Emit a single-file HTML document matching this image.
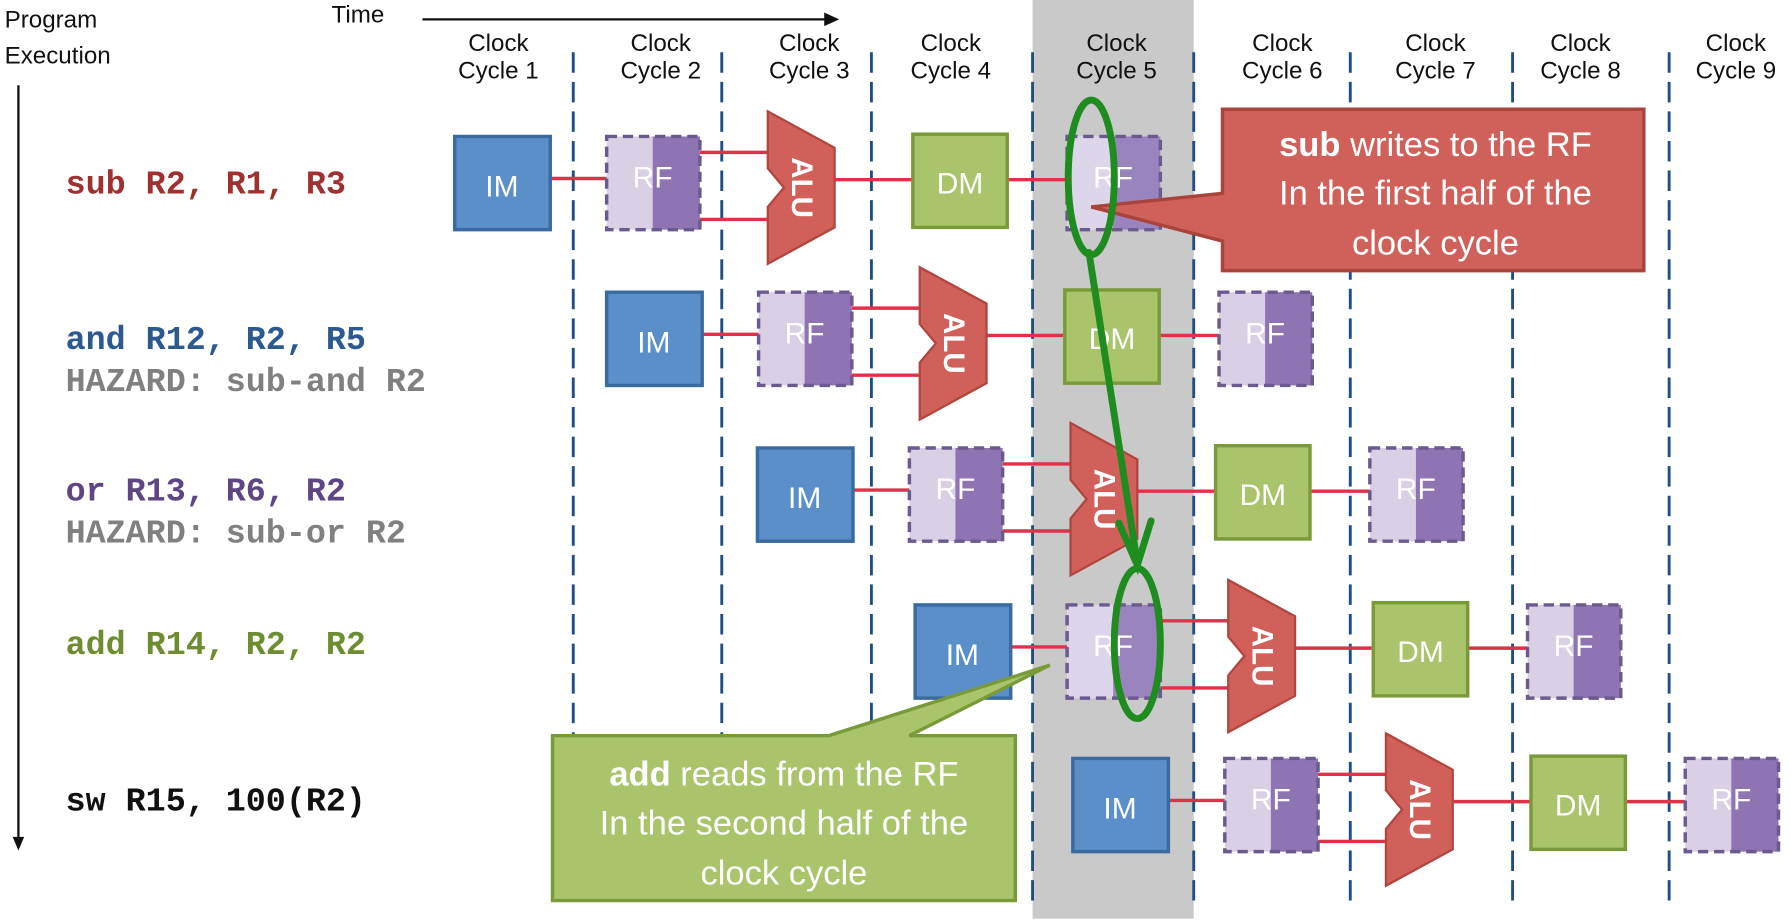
<!DOCTYPE html>
<html><head><meta charset="utf-8"><style>
html,body{margin:0;padding:0;background:#fff;}
svg{display:block;}
.cl{font-family:"Liberation Sans",sans-serif;font-size:21px;fill:#111;text-anchor:middle;}
.ins{font-family:"Liberation Mono",monospace;font-size:29px;font-weight:bold;}
.lbl{font-family:"Liberation Sans",sans-serif;font-size:26px;fill:#fff;text-anchor:middle;}
.co{font-family:"Liberation Sans",sans-serif;font-size:30px;fill:#fff;text-anchor:middle;}
</style></head><body>
<svg width="1790" height="921" viewBox="0 0 1555 810" preserveAspectRatio="none" xmlns="http://www.w3.org/2000/svg">
<rect x="897" y="0" width="140" height="808" fill="#c9c9c9"/>
<text x="4" y="24" font-family="Liberation Sans, sans-serif" font-size="21" fill="#111">Program</text>
<text x="4" y="56" font-family="Liberation Sans, sans-serif" font-size="21" fill="#111">Execution</text>
<line x1="16" y1="75" x2="16" y2="738" stroke="#111" stroke-width="2"/>
<polygon points="11,736 21,736 16,748" fill="#111"/>
<text x="288" y="20" font-family="Liberation Sans, sans-serif" font-size="21" fill="#111">Time</text>
<line x1="367" y1="17" x2="718" y2="17" stroke="#111" stroke-width="2"/>
<polygon points="716,11 729,17 716,23" fill="#111"/>
<g class="cl">
<text x="433" y="45">Clock</text><text x="433" y="69">Cycle 1</text>
<text x="574" y="45">Clock</text><text x="574" y="69">Cycle 2</text>
<text x="703" y="45">Clock</text><text x="703" y="69">Cycle 3</text>
<text x="826" y="45">Clock</text><text x="826" y="69">Cycle 4</text>
<text x="970" y="45">Clock</text><text x="970" y="69">Cycle 5</text>
<text x="1114" y="45">Clock</text><text x="1114" y="69">Cycle 6</text>
<text x="1247" y="45">Clock</text><text x="1247" y="69">Cycle 7</text>
<text x="1373" y="45">Clock</text><text x="1373" y="69">Cycle 8</text>
<text x="1508" y="45">Clock</text><text x="1508" y="69">Cycle 9</text>
</g>
<g stroke="#1f4e85" stroke-width="2.5" stroke-dasharray="18,8">
<line x1="498" y1="46" x2="498" y2="795"/><line x1="627" y1="46" x2="627" y2="795"/>
<line x1="757" y1="46" x2="757" y2="795"/><line x1="897" y1="46" x2="897" y2="795"/>
<line x1="1037" y1="46" x2="1037" y2="795"/><line x1="1173" y1="46" x2="1173" y2="795"/>
<line x1="1314" y1="46" x2="1314" y2="795"/><line x1="1450" y1="46" x2="1450" y2="795"/>
</g>
<text class="ins" x="57" y="170" fill="#a03030">sub R2, R1, R3</text>
<text class="ins" x="57" y="307" fill="#2c5a90">and R12, R2, R5</text>
<text class="ins" x="57" y="344" fill="#808080">HAZARD: sub-and R2</text>
<text class="ins" x="57" y="440" fill="#5e4685">or  R13, R6, R2</text>
<text class="ins" x="57" y="477" fill="#808080">HAZARD: sub-or  R2</text>
<text class="ins" x="57" y="575" fill="#6e8c30">add R14, R2, R2</text>
<text class="ins" x="57" y="713" fill="#111">sw  R15, 100(R2)</text>

<!-- Row 1 -->
<g transform="translate(395,120)">
<g stroke="#e0304a" stroke-width="3"><line x1="83" y1="37" x2="132" y2="37"/><line x1="213" y1="14" x2="272" y2="14"/><line x1="213" y1="73" x2="272" y2="73"/><line x1="330" y1="38" x2="398" y2="38"/><line x1="480" y1="38" x2="532" y2="38"/></g>
<rect x="0" y="0" width="83" height="82" fill="#5b8fc9" stroke="#3a6aa0" stroke-width="3"/><text class="lbl" x="41" y="53">IM</text>
<rect x="132" y="0" width="40" height="82" fill="#d9d0e6"/><rect x="172" y="0" width="41" height="82" fill="#8e74b3"/><rect x="132" y="0" width="81" height="82" fill="none" stroke="#6b5a8e" stroke-width="3" stroke-dasharray="9,5"/><text class="lbl" x="172" y="45">RF</text>
<polygon points="272,-22 330,10 330,80 272,112 272,62 286,45 272,28" fill="#d2605a" stroke="#b0463e" stroke-width="2"/><text class="lbl" x="0" y="0" font-weight="bold" font-size="22" transform="translate(293,45) rotate(90)">ALU</text>
<rect x="398" y="-2" width="82" height="82" fill="#a9c46a" stroke="#7a9a3a" stroke-width="3"/><text class="lbl" x="439" y="50">DM</text>
<rect x="532" y="0" width="40" height="82" fill="#ddd6ea"/><rect x="572" y="0" width="41" height="82" fill="#9a84bd"/><rect x="532" y="0" width="81" height="82" fill="none" stroke="#6b5a8e" stroke-width="3" stroke-dasharray="9,5"/><text class="lbl" x="572" y="45">RF</text>
</g>
<!-- Row 2 -->
<g transform="translate(527,257)">
<g stroke="#e0304a" stroke-width="3"><line x1="83" y1="37" x2="132" y2="37"/><line x1="213" y1="14" x2="272" y2="14"/><line x1="213" y1="73" x2="272" y2="73"/><line x1="330" y1="38" x2="398" y2="38"/><line x1="480" y1="38" x2="532" y2="38"/></g>
<rect x="0" y="0" width="83" height="82" fill="#5b8fc9" stroke="#3a6aa0" stroke-width="3"/><text class="lbl" x="41" y="53">IM</text>
<rect x="132" y="0" width="40" height="82" fill="#d9d0e6"/><rect x="172" y="0" width="41" height="82" fill="#8e74b3"/><rect x="132" y="0" width="81" height="82" fill="none" stroke="#6b5a8e" stroke-width="3" stroke-dasharray="9,5"/><text class="lbl" x="172" y="45">RF</text>
<polygon points="272,-22 330,10 330,80 272,112 272,62 286,45 272,28" fill="#d2605a" stroke="#b0463e" stroke-width="2"/><text class="lbl" x="0" y="0" font-weight="bold" font-size="22" transform="translate(293,45) rotate(90)">ALU</text>
<rect x="398" y="-2" width="82" height="82" fill="#a9c46a" stroke="#7a9a3a" stroke-width="3"/><text class="lbl" x="439" y="50">DM</text>
<rect x="532" y="0" width="40" height="82" fill="#d9d0e6"/><rect x="572" y="0" width="41" height="82" fill="#8e74b3"/><rect x="532" y="0" width="81" height="82" fill="none" stroke="#6b5a8e" stroke-width="3" stroke-dasharray="9,5"/><text class="lbl" x="572" y="45">RF</text>
</g>
<!-- Row 3 -->
<g transform="translate(658,394)">
<g stroke="#e0304a" stroke-width="3"><line x1="83" y1="37" x2="132" y2="37"/><line x1="213" y1="14" x2="272" y2="14"/><line x1="213" y1="73" x2="272" y2="73"/><line x1="330" y1="38" x2="398" y2="38"/><line x1="480" y1="38" x2="532" y2="38"/></g>
<rect x="0" y="0" width="83" height="82" fill="#5b8fc9" stroke="#3a6aa0" stroke-width="3"/><text class="lbl" x="41" y="53">IM</text>
<rect x="132" y="0" width="40" height="82" fill="#d9d0e6"/><rect x="172" y="0" width="41" height="82" fill="#8e74b3"/><rect x="132" y="0" width="81" height="82" fill="none" stroke="#6b5a8e" stroke-width="3" stroke-dasharray="9,5"/><text class="lbl" x="172" y="45">RF</text>
<polygon points="272,-22 330,10 330,80 272,112 272,62 286,45 272,28" fill="#d2605a" stroke="#b0463e" stroke-width="2"/><text class="lbl" x="0" y="0" font-weight="bold" font-size="22" transform="translate(293,45) rotate(90)">ALU</text>
<rect x="398" y="-2" width="82" height="82" fill="#a9c46a" stroke="#7a9a3a" stroke-width="3"/><text class="lbl" x="439" y="50">DM</text>
<rect x="532" y="0" width="40" height="82" fill="#d9d0e6"/><rect x="572" y="0" width="41" height="82" fill="#8e74b3"/><rect x="532" y="0" width="81" height="82" fill="none" stroke="#6b5a8e" stroke-width="3" stroke-dasharray="9,5"/><text class="lbl" x="572" y="45">RF</text>
</g>
<!-- Row 4 -->
<g transform="translate(795,532)">
<g stroke="#e0304a" stroke-width="3"><line x1="83" y1="37" x2="132" y2="37"/><line x1="213" y1="14" x2="272" y2="14"/><line x1="213" y1="73" x2="272" y2="73"/><line x1="330" y1="38" x2="398" y2="38"/><line x1="480" y1="38" x2="532" y2="38"/></g>
<rect x="0" y="0" width="83" height="82" fill="#5b8fc9" stroke="#3a6aa0" stroke-width="3"/><text class="lbl" x="41" y="53">IM</text>
<rect x="132" y="0" width="40" height="82" fill="#ddd6ea"/><rect x="172" y="0" width="41" height="82" fill="#9a84bd"/><rect x="132" y="0" width="81" height="82" fill="none" stroke="#6b5a8e" stroke-width="3" stroke-dasharray="9,5"/><text class="lbl" x="172" y="45">RF</text>
<polygon points="272,-22 330,10 330,80 272,112 272,62 286,45 272,28" fill="#d2605a" stroke="#b0463e" stroke-width="2"/><text class="lbl" x="0" y="0" font-weight="bold" font-size="22" transform="translate(293,45) rotate(90)">ALU</text>
<rect x="398" y="-2" width="82" height="82" fill="#a9c46a" stroke="#7a9a3a" stroke-width="3"/><text class="lbl" x="439" y="50">DM</text>
<rect x="532" y="0" width="40" height="82" fill="#d9d0e6"/><rect x="572" y="0" width="41" height="82" fill="#8e74b3"/><rect x="532" y="0" width="81" height="82" fill="none" stroke="#6b5a8e" stroke-width="3" stroke-dasharray="9,5"/><text class="lbl" x="572" y="45">RF</text>
</g>
<!-- Row 5 -->
<g transform="translate(932,667)">
<g stroke="#e0304a" stroke-width="3"><line x1="83" y1="37" x2="132" y2="37"/><line x1="213" y1="14" x2="272" y2="14"/><line x1="213" y1="73" x2="272" y2="73"/><line x1="330" y1="38" x2="398" y2="38"/><line x1="480" y1="38" x2="532" y2="38"/></g>
<rect x="0" y="0" width="83" height="82" fill="#5b8fc9" stroke="#3a6aa0" stroke-width="3"/><text class="lbl" x="41" y="53">IM</text>
<rect x="132" y="0" width="40" height="82" fill="#d9d0e6"/><rect x="172" y="0" width="41" height="82" fill="#8e74b3"/><rect x="132" y="0" width="81" height="82" fill="none" stroke="#6b5a8e" stroke-width="3" stroke-dasharray="9,5"/><text class="lbl" x="172" y="45">RF</text>
<polygon points="272,-22 330,10 330,80 272,112 272,62 286,45 272,28" fill="#d2605a" stroke="#b0463e" stroke-width="2"/><text class="lbl" x="0" y="0" font-weight="bold" font-size="22" transform="translate(293,45) rotate(90)">ALU</text>
<rect x="398" y="-2" width="82" height="82" fill="#a9c46a" stroke="#7a9a3a" stroke-width="3"/><text class="lbl" x="439" y="50">DM</text>
<rect x="532" y="0" width="40" height="82" fill="#d9d0e6"/><rect x="572" y="0" width="41" height="82" fill="#8e74b3"/><rect x="532" y="0" width="81" height="82" fill="none" stroke="#6b5a8e" stroke-width="3" stroke-dasharray="9,5"/><text class="lbl" x="572" y="45">RF</text>
</g>

<!-- red callout -->
<path d="M1062,96 L1428,96 L1428,238 L1062,238 L1062,212 L948,182 L1062,170 Z" fill="#d0605a" stroke="#a8443c" stroke-width="3"/>
<text class="co" x="1247" y="137"><tspan font-weight="bold">sub</tspan> writes to the RF</text>
<text class="co" x="1247" y="180">In the first half of the</text>
<text class="co" x="1247" y="224">clock cycle</text>
<!-- green callout -->
<path d="M480,647 L720,647 L912,585 L790,647 L882,647 L882,792 L480,792 Z" fill="#a9c46a" stroke="#7a9a3a" stroke-width="3"/>
<text class="co" x="681" y="691"><tspan font-weight="bold">add</tspan> reads from the RF</text>
<text class="co" x="681" y="734">In the second half of the</text>
<text class="co" x="681" y="778">clock cycle</text>

<!-- green ellipses and arrow -->
<g fill="none" stroke="#1e8c1e" stroke-width="6" stroke-linecap="round">
<ellipse cx="948" cy="156" rx="20" ry="68"/>
<ellipse cx="988" cy="566" rx="20" ry="66"/>
<line x1="946" y1="222" x2="988" y2="495"/>
<polyline points="972,460 988,497 1000,458"/>
</g>
</svg>
</body></html>
